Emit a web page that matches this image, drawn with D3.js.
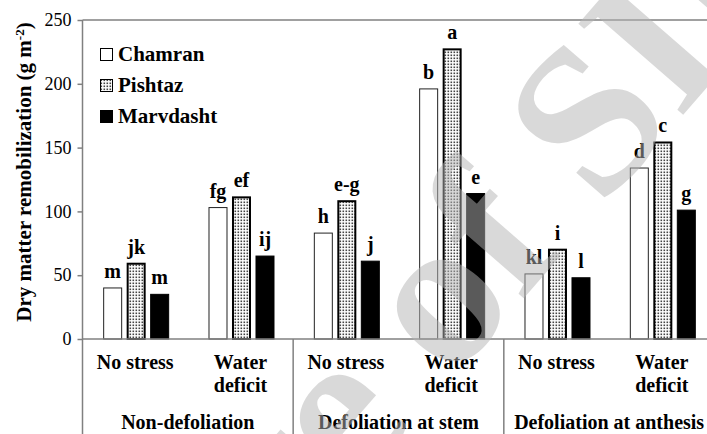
<!DOCTYPE html>
<html>
<head>
<meta charset="utf-8">
<script src="https://cdn.jsdelivr.net/npm/d3@7"></script>
<style>
  body { margin: 0; background: #fff; }
  svg text { font-family: "Liberation Serif", "Times New Roman", serif; }
</style>
</head>
<body>
<div id="main"></div>
<script>
// data
var categories = ["ns1", "wd1", "ns2", "wd2", "ns3", "wd3"];
var catLabels = [["No stress"], ["Water", "deficit"], ["No stress"], ["Water", "deficit"], ["No stress"], ["Water", "deficit"]];
var groups = ["Non-defoliation", "Defoliation at stem", "Defoliation at anthesis"];
var series = ["Chamran", "Pishtaz", "Marvdasht"];
var chamran = [40, 103, 83, 196, 51, 134];
var pishtaz = [59, 111, 108, 227, 70, 154];
var marvdasht = [35, 65, 61, 114, 48, 101];
var chamranLetters = ["m", "fg", "h", "b", "kl", "d"];
var pishtazLetters = ["jk", "ef", "e-g", "a", "i", "c"];
var marvdashtLetters = ["m", "ij", "j", "e", "l", "g"];
var yTicks = [0, 50, 100, 150, 200, 250];

const w = 707;
const h = 434;
const leftX = 82.5;
const topY = 20;
const zeroY = 339;

var values = [chamran, pishtaz, marvdasht];
var letters = [chamranLetters, pishtazLetters, marvdashtLetters];

const svg = d3.select("#main").append("svg").attr("width", w).attr("height", h);

// stipple pattern for Pishtaz
var defs = svg.append("defs");
var pat = defs.append("pattern")
    .attr("id", "dots")
    .attr("width", 3).attr("height", 3)
    .attr("patternUnits", "userSpaceOnUse");
pat.append("rect").attr("width", 3).attr("height", 3).attr("fill", "#fff");
pat.append("rect").attr("x", 0.5).attr("y", 0.5).attr("width", 1.6).attr("height", 1.6).attr("fill", "#444");

//scales
const yScale = d3.scaleLinear().domain([0, 250]).range([zeroY, topY]);
const x0 = d3.scaleBand().domain(categories).range([leftX, leftX + 6 * 105.33]);
const x1 = d3.scaleBand().domain(series).range([0, 66]).paddingInner(4.5 / 23.5);
const innerOff = (x0.bandwidth() - 66) / 2 + 1;

const fills = ["#fff", "url(#dots)", "#000"];
const strokes = ["#222", "#000", "#000"];
const strokeW = [1, 2, 1];

// frame: top line
svg.append("line")
    .attr("x1", leftX).attr("x2", w)
    .attr("y1", topY).attr("y2", topY)
    .attr("stroke", "#808080").attr("stroke-width", 1.5);

// y axis
const yAxis = d3.axisLeft(yScale).tickValues(yTicks).tickSize(5).tickPadding(6);
var yg = svg.append("g")
    .attr("transform", "translate(" + leftX + ",0)")
    .call(yAxis);
yg.select(".domain").remove();
yg.selectAll(".tick line").attr("stroke", "#808080").attr("stroke-width", 1.5);
yg.selectAll(".tick text")
    .style("font-family", "'Liberation Serif', serif")
    .style("font-size", "18px")
    .attr("fill", "#000");

svg.append("line")
    .attr("x1", leftX).attr("x2", leftX)
    .attr("y1", topY).attr("y2", h)
    .attr("stroke", "#808080").attr("stroke-width", 1.5);

// bars
series.forEach(function (s, si) {
    svg.append("g").selectAll("rect")
        .data(values[si])
        .enter()
        .append("rect")
        .attr("x", (d, i) => x0(categories[i]) + innerOff + x1(s) + strokeW[si] / 2)
        .attr("y", d => yScale(d))
        .attr("width", x1.bandwidth() - strokeW[si])
        .attr("height", d => zeroY - yScale(d))
        .attr("fill", fills[si])
        .attr("stroke", strokes[si])
        .attr("stroke-width", strokeW[si]);

    svg.append("g").selectAll("text")
        .data(values[si])
        .enter()
        .append("text")
        .attr("x", (d, i) => x0(categories[i]) + innerOff + x1(s) + x1.bandwidth() / 2)
        .attr("y", d => yScale(d) - 10)
        .attr("text-anchor", "middle")
        .style("font-size", "20px")
        .style("font-weight", "bold")
        .text((d, i) => letters[si][i]);
});

// x axis line
svg.append("line")
    .attr("x1", leftX).attr("x2", w)
    .attr("y1", zeroY).attr("y2", zeroY)
    .attr("stroke", "#808080").attr("stroke-width", 1.5);

// category labels
svg.append("g").selectAll("text")
    .data(categories)
    .enter()
    .append("text")
    .attr("text-anchor", "middle")
    .style("font-size", "20px")
    .style("font-weight", "bold")
    .each(function (d, i) {
        var t = d3.select(this);
        catLabels[i].forEach(function (line, li) {
            t.append("tspan")
                .attr("x", x0(d) + x0.bandwidth() / 2)
                .attr("y", 369 + li * 23)
                .text(line);
        });
    });

// group dividers and group labels
[2, 4].forEach(function (k) {
    var gx = x0(categories[k]);
    svg.append("line")
        .attr("x1", gx).attr("x2", gx)
        .attr("y1", zeroY).attr("y2", h)
        .attr("stroke", "#808080").attr("stroke-width", 1.5);
});
svg.append("g").selectAll("text")
    .data(groups)
    .enter()
    .append("text")
    .attr("x", (d, i) => x0(categories[i * 2]) + x0.bandwidth())
    .attr("y", 429)
    .attr("text-anchor", "middle")
    .style("font-size", "20px")
    .style("font-weight", "bold")
    .text(d => d);

// y title
var yt = svg.append("text")
    .attr("transform", "translate(31,172) rotate(-90)")
    .attr("text-anchor", "middle")
    .style("font-size", "21px")
    .style("font-weight", "bold");
yt.append("tspan").text("Dry matter remobilization  (g m");
yt.append("tspan").attr("baseline-shift", "super").style("font-size", "13px").text("-2");
yt.append("tspan").text(")");

// legend
var leg = svg.append("g").selectAll("g")
    .data(series)
    .enter()
    .append("g")
    .attr("transform", (d, i) => "translate(100," + (48 + i * 31) + ")");
leg.append("rect")
    .attr("x", 0.5).attr("y", 0.5)
    .attr("width", 12).attr("height", 12)
    .attr("fill", (d, i) => fills[i])
    .attr("stroke", "#000")
    .attr("stroke-width", 1);
leg.append("text")
    .attr("x", 18)
    .attr("y", 12.5)
    .style("font-size", "21px")
    .style("font-weight", "bold")
    .text(d => d);

// watermark
svg.append("text")
    .attr("transform", "translate(390,452) rotate(-49)")
    .attr("text-anchor", "middle")
    .style("font-size", "212px")
    .style("font-weight", "bold")
    .attr("fill", "#b4b4b4")
    .attr("fill-opacity", 0.5)
    .text("Archive of SID");
</script>
</body>
</html>
